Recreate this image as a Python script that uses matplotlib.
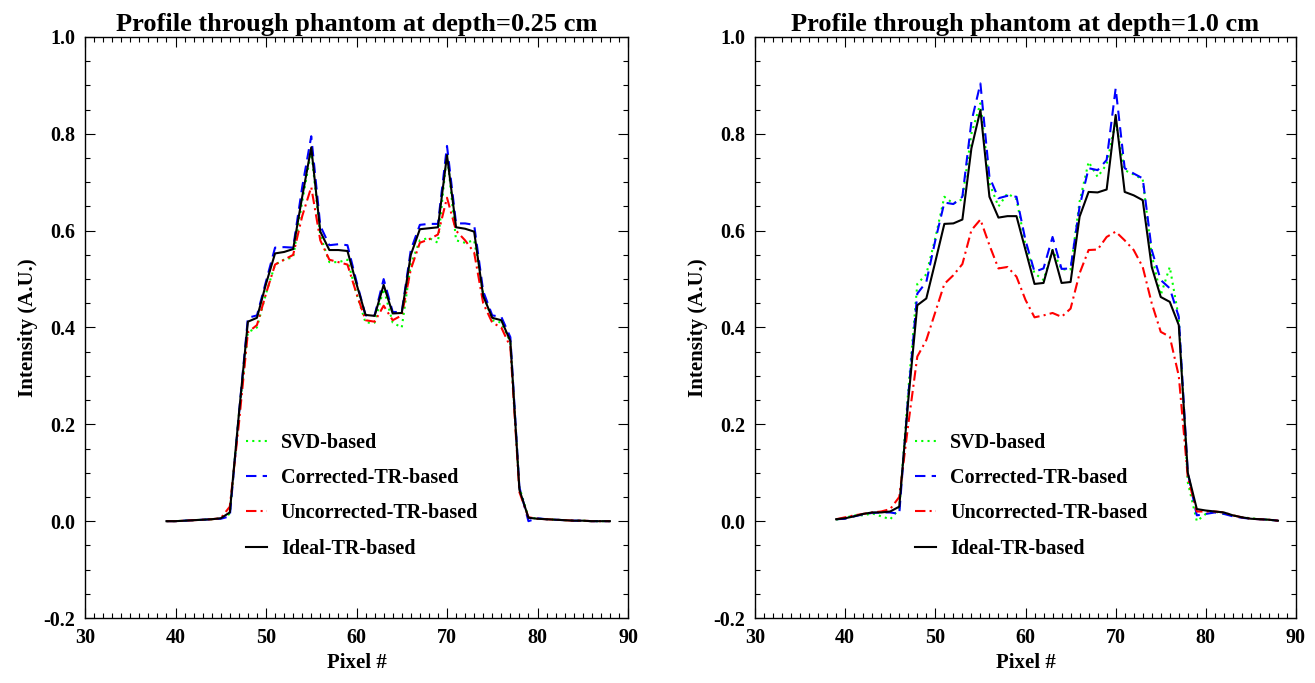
import matplotlib
matplotlib.use("Agg")
import matplotlib.pyplot as plt
from matplotlib.ticker import MultipleLocator, FormatStrFormatter

pixels = list(range(39, 89))

titles = ["Profile through phantom at depth=0.25 cm",
          "Profile through phantom at depth=1.0 cm"]
labels = ["SVD-based", "Corrected-TR-based", "Uncorrected-TR-based", "Ideal-TR-based"]

# depth = 0.25 cm
svd_025 = [0.000, 0.000, 0.001, 0.002, 0.003, 0.004, 0.005, 0.015, 0.220, 0.390,
           0.400, 0.470, 0.530, 0.540, 0.545, 0.660, 0.765, 0.590, 0.535, 0.535,
           0.540, 0.470, 0.410, 0.410, 0.480, 0.410, 0.400, 0.530, 0.580, 0.585,
           0.575, 0.760, 0.580, 0.575, 0.580, 0.470, 0.415, 0.410, 0.370, 0.070,
           0.008, 0.005, 0.004, 0.003, 0.002, 0.001, 0.001, 0.000, 0.000, 0.000]
corrected_025 = [0.000, 0.000, 0.001, 0.002, 0.003, 0.004, 0.005, 0.010, 0.220, 0.420,
                 0.425, 0.495, 0.565, 0.566, 0.565, 0.690, 0.795, 0.610, 0.570, 0.572,
                 0.570, 0.495, 0.425, 0.425, 0.500, 0.432, 0.432, 0.560, 0.612, 0.614,
                 0.614, 0.775, 0.615, 0.615, 0.612, 0.475, 0.425, 0.422, 0.380, 0.070,
                 0.000, 0.006, 0.004, 0.003, 0.002, 0.001, 0.001, 0.000, 0.000, 0.000]
uncorrected_025 = [0.000, 0.000, 0.001, 0.002, 0.003, 0.004, 0.006, 0.030, 0.200, 0.390,
                   0.405, 0.470, 0.530, 0.540, 0.550, 0.630, 0.690, 0.580, 0.540, 0.535,
                   0.530, 0.470, 0.415, 0.412, 0.445, 0.415, 0.425, 0.520, 0.575, 0.582,
                   0.592, 0.668, 0.600, 0.580, 0.555, 0.450, 0.410, 0.400, 0.360, 0.060,
                   0.008, 0.005, 0.004, 0.003, 0.002, 0.001, 0.001, 0.000, 0.000, 0.000]
ideal_025 = [0.000, 0.000, 0.001, 0.002, 0.003, 0.004, 0.006, 0.018, 0.220, 0.412,
             0.420, 0.490, 0.553, 0.556, 0.562, 0.670, 0.772, 0.598, 0.560, 0.560,
             0.558, 0.490, 0.426, 0.424, 0.488, 0.429, 0.430, 0.550, 0.603, 0.605,
             0.607, 0.756, 0.607, 0.604, 0.598, 0.465, 0.420, 0.415, 0.372, 0.065,
             0.007, 0.005, 0.004, 0.003, 0.002, 0.001, 0.001, 0.000, 0.000, 0.000]

# depth = 1.0 cm
svd_10 = [0.003, 0.007, 0.012, 0.012, 0.016, 0.010, 0.004, 0.025, 0.270, 0.490,
          0.510, 0.585, 0.670, 0.656, 0.665, 0.800, 0.863, 0.698, 0.650, 0.677,
          0.665, 0.570, 0.512, 0.498, 0.560, 0.520, 0.520, 0.660, 0.742, 0.711,
          0.737, 0.825, 0.725, 0.716, 0.706, 0.550, 0.467, 0.525, 0.420, 0.080,
          0.000, 0.015, 0.020, 0.015, 0.012, 0.008, 0.006, 0.004, 0.003, 0.001]
corrected_10 = [0.004, 0.005, 0.010, 0.014, 0.017, 0.018, 0.018, 0.015, 0.260, 0.470,
                0.494, 0.580, 0.658, 0.655, 0.670, 0.825, 0.904, 0.711, 0.667, 0.672,
                0.670, 0.580, 0.515, 0.522, 0.587, 0.521, 0.522, 0.650, 0.729, 0.725,
                0.746, 0.894, 0.729, 0.718, 0.708, 0.560, 0.498, 0.481, 0.422, 0.100,
                0.012, 0.015, 0.018, 0.015, 0.010, 0.007, 0.005, 0.004, 0.003, 0.001]
uncorrected_10 = [0.004, 0.008, 0.012, 0.015, 0.018, 0.020, 0.025, 0.050, 0.200, 0.340,
                  0.374, 0.432, 0.490, 0.508, 0.531, 0.601, 0.623, 0.570, 0.522, 0.525,
                  0.505, 0.457, 0.421, 0.425, 0.430, 0.422, 0.439, 0.512, 0.560, 0.561,
                  0.587, 0.598, 0.580, 0.560, 0.525, 0.450, 0.391, 0.381, 0.300, 0.090,
                  0.020, 0.020, 0.020, 0.018, 0.012, 0.008, 0.005, 0.004, 0.003, 0.001]
ideal_10 = [0.004, 0.006, 0.010, 0.015, 0.018, 0.018, 0.020, 0.030, 0.250, 0.446,
            0.460, 0.536, 0.614, 0.615, 0.623, 0.770, 0.849, 0.670, 0.627, 0.630,
            0.630, 0.560, 0.490, 0.492, 0.560, 0.492, 0.494, 0.629, 0.680, 0.679,
            0.685, 0.839, 0.680, 0.673, 0.663, 0.525, 0.463, 0.453, 0.405, 0.100,
            0.025, 0.022, 0.020, 0.018, 0.012, 0.008, 0.005, 0.004, 0.003, 0.001]

plt.rcParams["font.family"] = ["Liberation Serif", "DejaVu Serif"]
plt.rcParams["font.weight"] = "bold"
plt.rcParams["axes.unicode_minus"] = False


def profile_panel(ax, title, svd, corrected, uncorrected, ideal):
    """One profile plot with the four reconstructions"""
    ax.plot(pixels, svd, color="#00ff00", linestyle=(0, (1, 2)), linewidth=1.5, label=labels[0])
    ax.plot(pixels, corrected, color="#0000ff", linestyle=(0, (5, 3)), linewidth=1.5, label=labels[1])
    ax.plot(pixels, uncorrected, color="#ff0000", linestyle=(0, (5, 2, 1, 2)), linewidth=1.5, label=labels[2])
    ax.plot(pixels, ideal, color="black", linestyle="-", linewidth=1.5, label=labels[3])

    ax.set_xlim(30, 90)
    ax.set_ylim(-0.2, 1.0)
    ax.xaxis.set_major_locator(MultipleLocator(10))
    ax.xaxis.set_minor_locator(MultipleLocator(1))
    ax.yaxis.set_major_locator(MultipleLocator(0.2))
    ax.yaxis.set_minor_locator(MultipleLocator(0.05))
    ax.yaxis.set_major_formatter(FormatStrFormatter("%.1f"))
    ax.tick_params(which="both", direction="in", top=True, right=True, width=0.8,
                   labelsize=14.5, pad=7)
    ax.tick_params(which="major", length=7.5)
    ax.tick_params(which="minor", length=3.6)
    for sp in ax.spines.values():
        sp.set_linewidth(1.0)

    ax.set_title(title, fontsize=19, fontweight="bold", pad=4)
    ax.set_xlabel("Pixel #", fontsize=15, fontweight="bold", labelpad=4)
    ax.set_ylabel("Intensity (A.U.)", fontsize=15, fontweight="bold", labelpad=4)

    ax.legend(loc="upper left", bbox_to_anchor=(0.296, 0.318), frameon=False,
              fontsize=14.5, handlelength=1.05, handletextpad=0.7,
              labelspacing=0.75, borderpad=0, borderaxespad=0)


fig = plt.figure(figsize=(13.15, 6.83), dpi=100)
W, H = 1315.0, 683.0
ax1 = fig.add_axes([85 / W, (H - 618) / H, 543 / W, 581 / H])
ax2 = fig.add_axes([755 / W, (H - 618) / H, 541 / W, 581 / H])

profile_panel(ax1, titles[0], svd_025, corrected_025, uncorrected_025, ideal_025)
profile_panel(ax2, titles[1], svd_10, corrected_10, uncorrected_10, ideal_10)

fig.savefig("out.png", dpi=100)
